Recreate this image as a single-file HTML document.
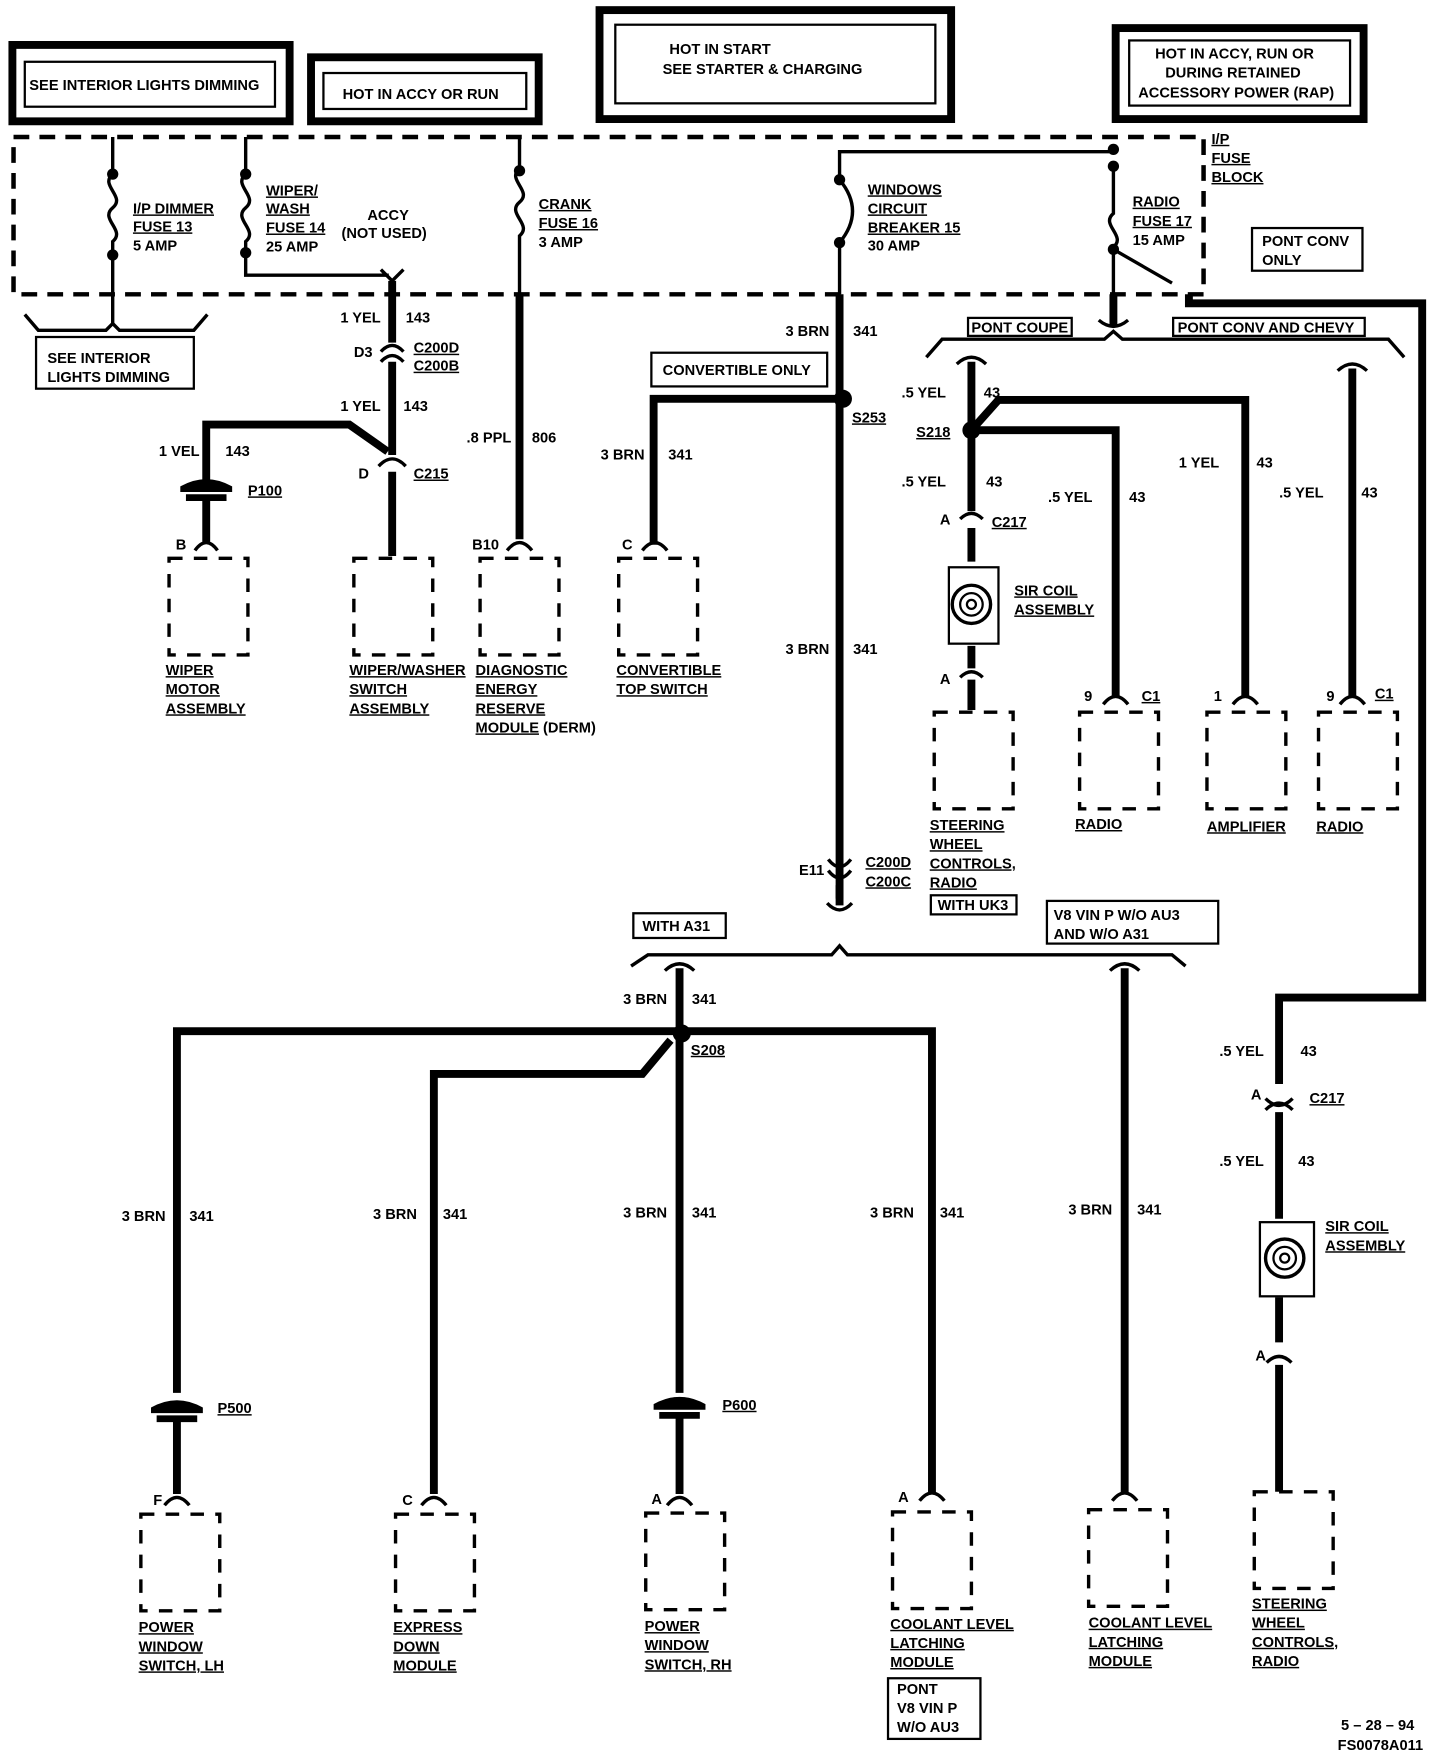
<!DOCTYPE html>
<html><head><style>
html,body{margin:0;padding:0;background:#fff;}
svg{display:block}
text{font-family:"Liberation Sans Narrow","Liberation Sans",sans-serif;font-weight:bold;font-size:13px;fill:#000}
.u{text-decoration:underline}
.w{stroke:#000;stroke-width:7;fill:none}
.t{stroke:#000;stroke-width:3;fill:none}
.d{stroke:#000;stroke-width:4;fill:none;stroke-dasharray:14 9}
.bx{stroke:#000;stroke-width:3;fill:none;stroke-dasharray:12 10}
</style></head><body>
<svg width="1456" height="1758" viewBox="0 0 1292 1565" preserveAspectRatio="none" xmlns="http://www.w3.org/2000/svg">
<rect x="11" y="40" width="246" height="68" fill="none" stroke="#000" stroke-width="7"/>
<rect x="22" y="55" width="222" height="40" fill="none" stroke="#000" stroke-width="2"/>
<text x="26" y="80">SEE INTERIOR LIGHTS DIMMING</text>
<rect x="276" y="51" width="202" height="57" fill="none" stroke="#000" stroke-width="7"/>
<rect x="287" y="65" width="180" height="32" fill="none" stroke="#000" stroke-width="2"/>
<text x="304" y="88">HOT IN ACCY OR RUN</text>
<rect x="532" y="9" width="312" height="97" fill="none" stroke="#000" stroke-width="7"/>
<rect x="546" y="22" width="284" height="70" fill="none" stroke="#000" stroke-width="2"/>
<text x="594" y="48">HOT  IN  START</text>
<text x="588" y="66">SEE  STARTER  &amp;  CHARGING</text>
<rect x="990" y="25" width="220" height="81" fill="none" stroke="#000" stroke-width="7"/>
<rect x="1002" y="36" width="196" height="58" fill="none" stroke="#000" stroke-width="2"/>
<text x="1025" y="52">HOT IN ACCY, RUN OR</text>
<text x="1034" y="69">DURING RETAINED</text>
<text x="1010" y="87">ACCESSORY POWER (RAP)</text>
<path class="d" d="M12 122 H1068 V262 H12 Z"/>
<text class="u" x="1075" y="128">I/P</text>
<text class="u" x="1075" y="145">FUSE</text>
<text class="u" x="1075" y="162">BLOCK</text>
<rect x="1111" y="203" width="98" height="38" fill="none" stroke="#000" stroke-width="2"/>
<text x="1120" y="219">PONT  CONV</text>
<text x="1120" y="236">ONLY</text>
<path class="t" d="M100 122 V155 C88 165,112 175,100 185 C88 195,112 205,100 215 V290"/>
<circle cx="100" cy="155" r="5"/><circle cx="100" cy="227" r="5"/>
<text class="u" x="118" y="190">I/P DIMMER</text><text class="u" x="118" y="206">FUSE 13</text><text x="118" y="223">5 AMP</text>
<path class="t" d="M22 280 L34 294 H94 L100 288 L106 294 H172 L184 280"/>
<rect x="32" y="300" width="140" height="46" fill="none" stroke="#000" stroke-width="2"/>
<text x="42" y="323">SEE INTERIOR</text><text x="42" y="340">LIGHTS DIMMING</text>
<path class="t" d="M218 122 V155 C206 165,230 175,218 185 C206 195,230 205,218 215 V245 H345"/>
<circle cx="218" cy="155" r="5"/><circle cx="218" cy="225" r="5"/>
<text class="u" x="236" y="174">WIPER/</text><text class="u" x="236" y="190">WASH</text><text class="u" x="236" y="207">FUSE 14</text><text x="236" y="224">25 AMP</text>
<text x="326" y="196">ACCY</text><text x="303" y="212">(NOT USED)</text>
<path class="t" d="M338 240 L348 250 L358 240"/>
<path class="w" d="M348 250 V305 M348 322 V405 M348 420 V495"/>
<path class="t" d="M338 313 Q348 302 358 313 M338 322 Q348 311 358 322"/>
<text x="302" y="287">1 YEL</text><text x="360" y="287">143</text>
<text x="314" y="318">D3</text><text class="u" x="367" y="314">C200D</text><text class="u" x="367" y="330">C200B</text>
<text x="302" y="366">1 YEL</text><text x="358" y="366">143</text>
<path class="w" d="M344 402 L310 378 H183 V428"/>
<path class="t" d="M336 415 Q348 402 360 415"/>
<text x="318" y="426">D</text><text class="u" x="367" y="426">C215</text>
<text x="141" y="406">1 VEL</text><text x="200" y="406">143</text>
<path d="M160 433 Q183 420 206 433 V438 H160 Z M165 440 H201 V446 H165Z"/>
<text class="u" x="220" y="441">P100</text>
<path class="w" d="M183 446 V482"/>
<path class="t" d="M173 490 Q183 476 193 490"/><text x="156" y="489">B</text>
<rect x="150" y="497" width="70" height="86" class="bx"/>
<text class="u" x="147" y="601">WIPER</text><text class="u" x="147" y="618">MOTOR</text><text class="u" x="147" y="635">ASSEMBLY</text>
<rect x="314" y="497" width="70" height="86" class="bx"/>
<text class="u" x="310" y="601">WIPER/WASHER</text><text class="u" x="310" y="618">SWITCH</text><text class="u" x="310" y="635">ASSEMBLY</text>
<path class="t" d="M461 122 V150 C449 160,473 170,461 180 C449 190,473 200,461 210 V262"/>
<circle cx="461" cy="152" r="5"/>
<text class="u" x="478" y="186">CRANK</text><text class="u" x="478" y="203">FUSE 16</text><text x="478" y="220">3 AMP</text>
<path class="w" d="M461 262 V480"/>
<path class="t" d="M450 490 Q461 476 472 490"/>
<text x="414" y="394">.8 PPL</text><text x="472" y="394">806</text>
<text x="419" y="489">B10</text>
<rect x="426" y="497" width="70" height="86" class="bx"/>
<text class="u" x="422" y="601">DIAGNOSTIC</text><text class="u" x="422" y="618">ENERGY</text><text class="u" x="422" y="635">RESERVE</text><text x="422" y="652"><tspan class="u">MODULE</tspan> (DERM)</text>
<path class="t" d="M988 135 H745 V160 Q768 188 745 216 V262"/>
<circle cx="745" cy="160" r="5"/><circle cx="745" cy="216" r="5"/>
<text class="u" x="770" y="173">WINDOWS</text><text class="u" x="770" y="190">CIRCUIT</text><text class="u" x="770" y="207">BREAKER 15</text><text x="770" y="223">30 AMP</text>
<path class="w" d="M745 262 V800"/>
<text x="697" y="299">3 BRN</text><text x="757" y="299">341</text>
<rect x="578" y="314" width="156" height="30" fill="none" stroke="#000" stroke-width="2"/>
<text x="588" y="334">CONVERTIBLE ONLY</text>
<circle cx="748" cy="355" r="8"/>
<path class="w" d="M745 355 H580 V485"/>
<text class="u" x="756" y="376">S253</text>
<text x="533" y="409">3 BRN</text><text x="593" y="409">341</text>
<path class="t" d="M570 490 Q581 476 592 490"/><text x="552" y="489">C</text>
<rect x="549" y="497" width="70" height="86" class="bx"/>
<text class="u" x="547" y="601">CONVERTIBLE</text><text class="u" x="547" y="618">TOP SWITCH</text>
<text x="697" y="582">3 BRN</text><text x="757" y="582">341</text>
<path class="t" d="M735 765 Q745 778 755 765 M735 775 Q745 788 755 775"/>
<text x="709" y="779">E11</text><text class="u" x="768" y="772">C200D</text><text class="u" x="768" y="789">C200C</text>
<path class="w" d="M745 788 V806"/><path class="t" d="M734 804 Q745 816 756 804"/>
<circle cx="988" cy="133" r="5"/><circle cx="988" cy="148" r="5"/>
<path class="t" d="M988 148 V190 C976 200,1000 210,988 220 V262 M988 222 L1040 252"/>
<circle cx="988" cy="222" r="5"/>
<text class="u" x="1005" y="184">RADIO</text><text class="u" x="1005" y="201">FUSE 17</text><text x="1005" y="218">15 AMP</text>
<path class="w" d="M988 262 V290"/><path class="t" d="M975 285 Q988 296 1001 285"/>
<rect x="859" y="283" width="92" height="16" fill="none" stroke="#000" stroke-width="2"/><text x="862" y="296">PONT  COUPE</text>
<rect x="1041" y="283" width="170" height="16" fill="none" stroke="#000" stroke-width="2"/><text x="1045" y="296">PONT  CONV  AND  CHEVY</text>
<path class="t" d="M822 318 L836 302 H980 L988 295 L996 302 H1232 L1246 318"/>
<path class="w" d="M1055 262 V270 H1262 V888 H1135 V965"/>
<path class="t" d="M849 324 Q862 312 875 324"/>
<path class="w" d="M862 322 V455 M862 470 V500 M862 575 V595 M862 605 V632"/>
<text x="800" y="354">.5  YEL</text><text x="873" y="354">43</text>
<circle cx="862" cy="383" r="8"/>
<text class="u" x="813" y="389">S218</text>
<path class="w" d="M862 383 L886 356 H1105 V620 M862 383 H990 V620"/>
<text x="800" y="433">.5  YEL</text><text x="875" y="433">43</text>
<text x="930" y="447">.5  YEL</text><text x="1002" y="447">43</text>
<text x="1046" y="416">1  YEL</text><text x="1115" y="416">43</text>
<text x="1135" y="443">.5  YEL</text><text x="1208" y="443">43</text>
<path class="t" d="M852 462 Q862 452 872 462"/><text x="834" y="467">A</text><text class="u" x="880" y="469">C217</text>
<rect x="842" y="505" width="44" height="68" fill="none" stroke="#000" stroke-width="2"/>
<circle cx="862" cy="538" r="17" fill="none" stroke="#000" stroke-width="3"/><circle cx="862" cy="538" r="10" fill="none" stroke="#000" stroke-width="2"/><circle cx="862" cy="538" r="4" fill="none" stroke="#000" stroke-width="2"/>
<text class="u" x="900" y="530">SIR COIL</text><text class="u" x="900" y="547">ASSEMBLY</text>
<path class="t" d="M852 603 Q862 593 872 603"/><text x="834" y="609">A</text>
<rect x="829" y="634" width="70" height="86" class="bx"/>
<text class="u" x="825" y="739">STEERING</text><text class="u" x="825" y="756">WHEEL</text><text class="u" x="825" y="773">CONTROLS,</text><text class="u" x="825" y="790">RADIO</text>
<rect x="826" y="797" width="76" height="17" fill="none" stroke="#000" stroke-width="2"/><text x="832" y="810">WITH  UK3</text>
<path class="t" d="M979 627 Q990 613 1001 627"/><text x="962" y="624">9</text><text class="u" x="1013" y="624">C1</text>
<rect x="958" y="634" width="70" height="86" class="bx"/><text class="u" x="954" y="738">RADIO</text>
<path class="t" d="M1094 627 Q1105 613 1116 627"/><text x="1077" y="624">1</text>
<rect x="1071" y="634" width="70" height="86" class="bx"/><text class="u" x="1071" y="740">AMPLIFIER</text>
<path class="t" d="M1187 330 Q1200 318 1213 330"/>
<path class="w" d="M1200 328 V620"/>
<path class="t" d="M1189 627 Q1200 613 1211 627"/><text x="1177" y="624">9</text><text class="u" x="1220" y="622">C1</text>
<rect x="1170" y="634" width="70" height="86" class="bx"/><text class="u" x="1168" y="740">RADIO</text>
<rect x="562" y="813" width="82" height="22" fill="none" stroke="#000" stroke-width="2"/><text x="570" y="829">WITH A31</text>
<rect x="929" y="802" width="152" height="38" fill="none" stroke="#000" stroke-width="2"/>
<text x="935" y="819">V8  VIN  P  W/O  AU3</text><text x="935" y="836">AND  W/O  A31</text>
<path class="t" d="M560 860 L575 850 H738 L745 842 L752 850 H1040 L1052 860"/>
<path class="t" d="M590 864 Q603 852 616 864 M985 864 Q998 852 1011 864"/>
<path class="w" d="M603 862 V1240 M603 1262 V1330 M998 862 V1330"/>
<text x="553" y="894">3 BRN</text><text x="614" y="894">341</text>
<circle cx="605" cy="920" r="8"/>
<text class="u" x="613" y="939">S208</text>
<path class="w" d="M603 918 H157 V1240 M157 1262 V1330 M603 918 H827 V1330 M595 926 L570 956 H385 V1330"/>
<text x="108" y="1087">3 BRN</text><text x="168" y="1087">341</text>
<text x="331" y="1085">3 BRN</text><text x="393" y="1085">341</text>
<text x="553" y="1084">3 BRN</text><text x="614" y="1084">341</text>
<text x="772" y="1084">3 BRN</text><text x="834" y="1084">341</text>
<text x="948" y="1081">3 BRN</text><text x="1009" y="1081">341</text>
<path d="M134 1253 Q157 1240 180 1253 V1258 H134 Z M139 1260 H175 V1266 H139Z"/>
<text class="u" x="193" y="1258">P500</text>
<path d="M580 1250 Q603 1237 626 1250 V1255 H580 Z M585 1257 H621 V1263 H585Z"/>
<text class="u" x="641" y="1255">P600</text>
<path class="t" d="M146 1340 Q157 1326 168 1340 M374 1340 Q385 1326 396 1340 M592 1340 Q603 1326 614 1340 M816 1336 Q827 1322 838 1336 M987 1336 Q998 1322 1009 1336"/>
<text x="136" y="1340">F</text><text x="357" y="1340">C</text><text x="578" y="1339">A</text><text x="797" y="1337">A</text>
<rect x="125" y="1348" width="70" height="86" class="bx"/>
<text class="u" x="123" y="1453">POWER</text><text class="u" x="123" y="1470">WINDOW</text><text class="u" x="123" y="1487">SWITCH, LH</text>
<rect x="351" y="1348" width="70" height="86" class="bx"/>
<text class="u" x="349" y="1453">EXPRESS</text><text class="u" x="349" y="1470">DOWN</text><text class="u" x="349" y="1487">MODULE</text>
<rect x="573" y="1347" width="70" height="86" class="bx"/>
<text class="u" x="572" y="1452">POWER</text><text class="u" x="572" y="1469">WINDOW</text><text class="u" x="572" y="1486">SWITCH, RH</text>
<rect x="792" y="1346" width="70" height="86" class="bx"/>
<text class="u" x="790" y="1450">COOLANT LEVEL</text><text class="u" x="790" y="1467">LATCHING</text><text class="u" x="790" y="1484">MODULE</text>
<rect x="788" y="1494" width="82" height="54" fill="none" stroke="#000" stroke-width="2"/>
<text x="796" y="1508">PONT</text><text x="796" y="1525">V8  VIN  P</text><text x="796" y="1542">W/O  AU3</text>
<rect x="966" y="1344" width="70" height="86" class="bx"/>
<text class="u" x="966" y="1449">COOLANT LEVEL</text><text class="u" x="966" y="1466">LATCHING</text><text class="u" x="966" y="1483">MODULE</text>
<text x="1082" y="940">.5  YEL</text><text x="1154" y="940">43</text>
<path class="t" d="M1123 978 Q1135 990 1147 978 M1123 988 Q1135 976 1147 988"/>
<text x="1110" y="979">A</text><text class="u" x="1162" y="982">C217</text>
<path class="w" d="M1135 990 V1085 M1135 1155 V1195 M1135 1215 V1328"/>
<text x="1082" y="1038">.5  YEL</text><text x="1152" y="1038">43</text>
<rect x="1118" y="1088" width="48" height="66" fill="none" stroke="#000" stroke-width="2"/>
<circle cx="1140" cy="1120" r="17" fill="none" stroke="#000" stroke-width="3"/><circle cx="1140" cy="1120" r="10" fill="none" stroke="#000" stroke-width="2"/><circle cx="1140" cy="1120" r="4" fill="none" stroke="#000" stroke-width="2"/>
<text class="u" x="1176" y="1096">SIR  COIL</text><text class="u" x="1176" y="1113">ASSEMBLY</text>
<path class="t" d="M1124 1213 Q1135 1202 1146 1213"/><text x="1114" y="1211">A</text>
<rect x="1113" y="1328" width="70" height="86" class="bx"/>
<text class="u" x="1111" y="1432">STEERING</text><text class="u" x="1111" y="1449">WHEEL</text><text class="u" x="1111" y="1466">CONTROLS,</text><text class="u" x="1111" y="1483">RADIO</text>
<text x="1190" y="1540">5 – 28 – 94</text>
<text x="1187" y="1558">FS0078A011</text>
</svg>
</body></html>
